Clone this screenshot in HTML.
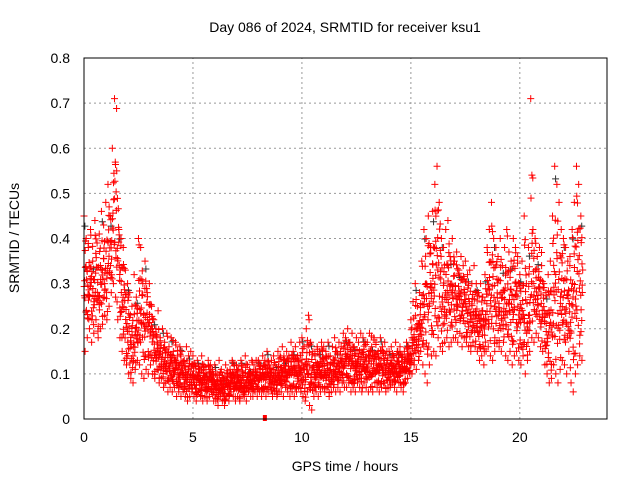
<!DOCTYPE html>
<html><head><meta charset="utf-8"><style>
body{margin:0;background:#fff;width:640px;height:480px;overflow:hidden}
svg{font-family:"Liberation Sans",sans-serif;font-size:14px}
</style></head><body>
<svg id="chart" width="640" height="480" viewBox="0 0 640 480" xmlns="http://www.w3.org/2000/svg">
<text x="345" y="32" text-anchor="middle">Day 086 of 2024, SRMTID for receiver ksu1</text>
<text transform="translate(19,238) rotate(-90)" text-anchor="middle">SRMTID / TECUs</text>
<text x="345" y="471" text-anchor="middle">GPS time / hours</text>
<g id="grid"></g>
<g id="ticks"></g>
<g id="marks"></g>
<rect x="84" y="58" width="523" height="361" fill="none" stroke="#000" stroke-width="1"/>
</svg>
<script>
const xTicks=[0,5,10,15,20];
const yTicks=[0,0.1,0.2,0.3,0.4,0.5,0.6,0.7,0.8];
const yTickLabels=["0","0.1","0.2","0.3","0.4","0.5","0.6","0.7","0.8"];
const hiVals=[.45,.40,.38,.42,.35,.44,.39,.41,.46,.43,.48,.52,.45,.60,.71,.55,.42,.40,.38,.33,.30,.28,.25,.32,.27,.40,.38,.30,.35,.28,.30,.25,.22,.20,.24,.18,.20,.17,.19,.16,.18,.15,.17,.14,.16,.15,.13,.16,.14,.15,.14,.12,.13,.11,.14,.12,.10,.13,.12,.11,.12,.10,.13,.11,.09,.12,.10,.11,.13,.12,.12,.11,.13,.10,.14,.12,.11,.13,.12,.13,.13,.12,.14,.13,.15,.12,.13,.14,.12,.15,.14,.16,.13,.15,.14,.17,.15,.16,.14,.17,.18,.16,.20,.23,.17,.15,.14,.16,.15,.17,.16,.15,.17,.14,.16,.18,.15,.17,.16,.19,.18,.20,.17,.19,.16,.18,.17,.19,.18,.17,.17,.19,.16,.18,.17,.15,.18,.16,.17,.15,.15,.16,.14,.17,.15,.16,.14,.15,.17,.16,.22,.26,.30,.25,.28,.35,.42,.40,.45,.38,.46,.52,.56,.48,.40,.38,.42,.44,.36,.40,.35,.37,.33,.36,.34,.35,.32,.33,.30,.34,.30,.28,.30,.27,.32,.38,.42,.48,.40,.38,.36,.40,.34,.38,.42,.37,.35,.40,.38,.36,.32,.35,.45,.30,.38,.71,.42,.40,.36,.38,.34,.30,.28,.32,.35,.45,.56,.52,.48,.42,.40,.38,.35,.36,.42,.48,.56,.52,.45];
const loVals=[.15,.18,.20,.17,.19,.22,.18,.20,.21,.23,.22,.25,.28,.30,.27,.22,.18,.15,.13,.12,.10,.09,.08,.11,.13,.12,.10,.09,.11,.10,.12,.10,.09,.11,.08,.09,.07,.08,.06,.07,.06,.07,.05,.06,.05,.06,.05,.04,.05,.06,.05,.04,.06,.05,.04,.05,.04,.05,.06,.04,.04,.03,.05,.04,.03,.05,.04,.06,.05,.04,.05,.04,.06,.05,.04,.06,.05,.05,.06,.05,.06,.05,.06,.05,.06,.07,.05,.06,.05,.06,.06,.05,.07,.06,.05,.06,.05,.06,.07,.06,.05,.04,.06,.03,.02,.05,.06,.05,.06,.07,.06,.07,.05,.06,.07,.06,.07,.06,.08,.07,.07,.08,.06,.07,.06,.08,.07,.06,.08,.07,.06,.07,.06,.08,.07,.06,.07,.08,.06,.07,.07,.08,.07,.06,.08,.07,.06,.08,.09,.10,.10,.12,.11,.13,.15,.12,.10,.08,.12,.14,.15,.14,.18,.16,.15,.17,.18,.16,.17,.18,.18,.17,.19,.16,.18,.17,.16,.15,.17,.16,.15,.13,.14,.12,.15,.16,.14,.13,.15,.17,.16,.15,.17,.14,.13,.15,.12,.14,.15,.13,.12,.14,.10,.13,.15,.18,.17,.19,.18,.16,.15,.12,.10,.08,.09,.12,.10,.08,.11,.13,.12,.10,.15,.08,.06,.10,.12,.14,.13];
// relative positions of extra samples within each bucket's low..high spread
const spreadFractions=[0.62,0.18,0.85,0.41,0.07,0.53,0.29,0.74,0.95,0.35,0.12,0.68,0.47];
const STEP=0.1;
const X0=84,X1=607,Y0=419,Y1=58,XMAX=24,YMAX=0.8;
const sx=t=>X0+t/XMAX*(X1-X0), sy=v=>Y0-v/YMAX*(Y0-Y1);
const NS="http://www.w3.org/2000/svg";
function mk(tag,attrs,parent,txt){const e=document.createElementNS(NS,tag);for(const k in attrs)e.setAttribute(k,attrs[k]);if(txt!==undefined)e.textContent=txt;parent.appendChild(e);return e;}
const grid=document.getElementById('grid'),ticks=document.getElementById('ticks'),marks=document.getElementById('marks');
xTicks.forEach(t=>{
  if(t>0){const g=mk('line',{x1:sx(t),x2:sx(t),y1:Y0,y2:Y1,stroke:'#999','stroke-dasharray':'2,3'},grid);
  
  }
  const l=mk('text',{x:sx(t),y:Y0+23,'text-anchor':'middle'},ticks,String(t));
  
  
});
yTicks.forEach((v,i)=>{
  if(v>0&&v<YMAX){const g=mk('line',{x1:X0,x2:X1,y1:sy(v),y2:sy(v),stroke:'#999','stroke-dasharray':'2,3'},grid);
  
  }
  const l=mk('text',{x:X0-14,y:sy(v)+5,'text-anchor':'end'},ticks,yTickLabels[i]);
  
  
});
function plus(x,y,c){
  const p=mk('path',{d:`M${x-3.5},${y}h7M${x},${y-3.5}v7`,stroke:c,'stroke-width':1,fill:'none'},marks);
  
  
}
// a few black points from the second receiver track
hiVals.forEach((v,i)=>{ if(i%4===0) plus(sx(i*STEP+0.04),sy(v*0.95),'#333'); });
const N=spreadFractions.length;
hiVals.forEach((h,i)=>{
  const l=loVals[i];
  plus(sx(i*STEP),sy(h),'#ff0000');
  plus(sx(i*STEP+0.05),sy(l),'#ff0000');
  for(let k=0;k<9;k++){
    const f=spreadFractions[(i*5+k*3)%N];
    const dt=spreadFractions[(i*7+k)%N]*STEP;
    // denser toward middle: squash extremes a little
    const g=0.15+0.7*f;
    plus(sx(i*STEP+dt),sy(l+(h-l)*(k<3?f:g)),'#ff0000');
  }
});
const m=mk('rect',{x:sx(8.3)-2,y:Y0-4,width:4,height:6,fill:'#ff0000'},marks);


</script>
</body></html>
